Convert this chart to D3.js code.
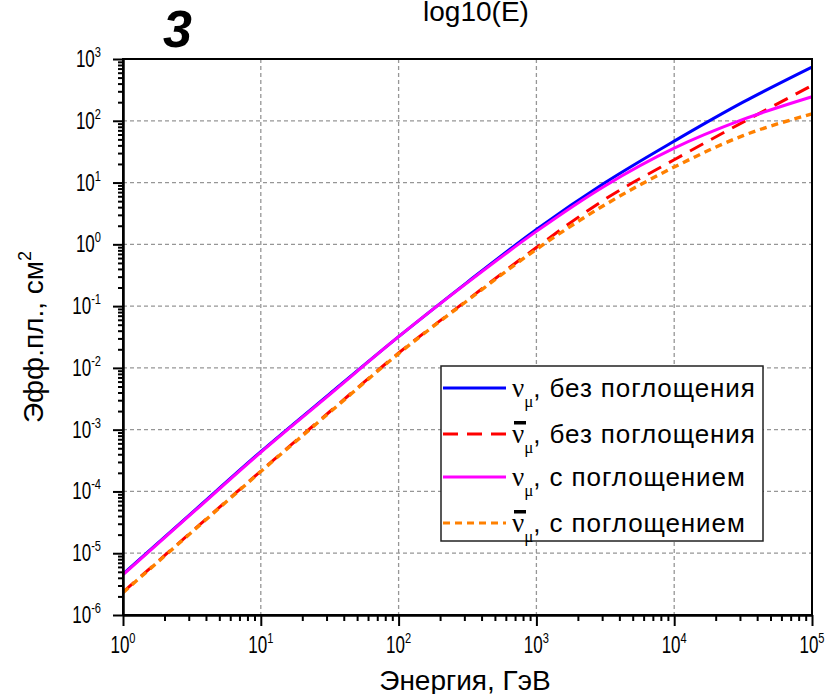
<!DOCTYPE html>
<html>
<head>
<meta charset="utf-8">
<script src="https://cdn.jsdelivr.net/npm/d3@7"></script>
<style>
  body { margin: 0; background: #fff; }
  text { font-family: "Liberation Sans", Arial, sans-serif; }
</style>
</head>
<body>
<div id="container"></div>
<script>
// energies, GeV (half-decade steps)
var energies = [1, 3.16, 10, 31.6, 100, 316, 1000, 3160, 10000, 31600, 100000];
// effective area, cm^2
var numuNoAbs    = [4.6e-6, 4.5e-5, 4.4e-4, 3.8e-3, 3.2e-2, 0.245, 1.74, 10.0, 46.8, 200, 741];
var numubarNoAbs = [2.35e-6, 2.24e-5, 2.14e-4, 1.95e-3, 1.74e-2, 0.126, 0.89, 5.4, 23.4, 95, 372];
var numuAbs      = [4.5e-6, 4.4e-5, 4.3e-4, 3.7e-3, 3.2e-2, 0.24, 1.62, 8.9, 36, 105, 245];
var numubarAbs   = [2.3e-6, 2.2e-5, 2.1e-4, 1.9e-3, 1.7e-2, 0.123, 0.83, 4.4, 17.8, 57.5, 129];

var xTickExps = [0, 1, 2, 3, 4, 5];
var yTickExps = [-6, -5, -4, -3, -2, -1, 0, 1, 2, 3];

var legendLabels = [', без поглощения', ', без поглощения', ', с поглощением', ', с поглощением'];
var legendBar = [false, true, false, true];

var series = [
  {values: numuNoAbs, color: '#0000ff', dash: null, width: 3},
  {values: numubarNoAbs, color: '#ff0000', dash: '15,9', width: 3},
  {values: numuAbs, color: '#ff00ff', dash: null, width: 3},
  {values: numubarAbs, color: '#ff8000', dash: '7,5', width: 3.4}
];

function drawChart() {
  var W = 840, H = 694;
  var mLeft = 123, mRight = 812, mTop = 59, mBottom = 615;

  var svg = d3.select('#container').append('svg')
    .attr('width', W).attr('height', H);
  svg.append('rect').attr('width', W).attr('height', H).attr('fill', '#fff');

  var x = d3.scaleLog().domain([1, 1e5]).range([mLeft, mRight]);
  var y = d3.scaleLog().domain([1e-6, 1e3]).range([mBottom, mTop]);

  // grid
  var grid = svg.append('g').attr('stroke', '#969696').attr('stroke-width', 1.3)
    .attr('stroke-dasharray', '4,3');
  xTickExps.slice(1, -1).forEach(function (e) {
    grid.append('line').attr('x1', x(Math.pow(10, e))).attr('x2', x(Math.pow(10, e)))
      .attr('y1', mTop).attr('y2', mBottom);
  });
  yTickExps.slice(1, -1).forEach(function (e) {
    grid.append('line').attr('y1', y(Math.pow(10, e))).attr('y2', y(Math.pow(10, e)))
      .attr('x1', mLeft).attr('x2', mRight);
  });

  // curves
  var line = d3.line()
    .x(function (d) { return x(d[0]); })
    .y(function (d) { return y(d[1]); })
    .curve(d3.curveMonotoneX);

  series.forEach(function (s) {
    svg.append('path')
      .datum(d3.zip(energies, s.values))
      .attr('fill', 'none')
      .attr('stroke', s.color)
      .attr('stroke-width', s.width)
      .attr('stroke-dasharray', s.dash)
      .attr('d', line);
  });

  // frame
  svg.append('rect').attr('x', mLeft).attr('y', mTop)
    .attr('width', mRight - mLeft).attr('height', mBottom - mTop)
    .attr('fill', 'none').attr('stroke', '#000').attr('stroke-width', 2);

  // axes
  function isMajor(v) { return Math.abs(Math.log10(v) - Math.round(Math.log10(v))) < 1e-6; }

  var xAxis = d3.axisBottom(x).tickValues(x.ticks()).tickFormat('')
    .tickSizeInner(0).tickSizeOuter(0);
  var gx = svg.append('g').attr('transform', 'translate(0,' + mBottom + ')').call(xAxis);
  gx.select('.domain').attr('stroke-width', 2.5);
  gx.selectAll('.tick line').attr('stroke-width', 2)
    .attr('y2', function (d) { return isMajor(d) ? 11 : 6; });

  var yAxis = d3.axisLeft(y).tickValues(y.ticks()).tickFormat('')
    .tickSizeInner(0).tickSizeOuter(0);
  var gy = svg.append('g').attr('transform', 'translate(' + mLeft + ',0)').call(yAxis);
  gy.select('.domain').attr('stroke-width', 2.5);
  gy.selectAll('.tick line').attr('stroke-width', 2)
    .attr('x2', function (d) { return isMajor(d) ? -10 : -5; });

  // tick labels
  xTickExps.forEach(function (e) {
    var g = svg.append('g').attr('transform', 'translate(' + x(Math.pow(10, e)) + ',653)');
    var t = g.append('text').attr('text-anchor', 'middle').attr('font-size', 23)
      .attr('transform', 'scale(0.74,1)');
    t.append('tspan').text('10');
    t.append('tspan').attr('font-size', 15).attr('dy', -10).text(e);
  });
  yTickExps.forEach(function (e) {
    var g = svg.append('g').attr('transform', 'translate(101,' + (y(Math.pow(10, e)) + 8) + ')');
    var t = g.append('text').attr('text-anchor', 'end').attr('font-size', 23)
      .attr('transform', 'scale(0.74,1)');
    t.append('tspan').text('10');
    t.append('tspan').attr('font-size', 15).attr('dy', -10).text(e);
  });

  // axis titles
  svg.append('text').attr('x', 465).attr('y', 690).attr('text-anchor', 'middle')
    .attr('font-size', 28).text('Энергия, ГэВ');

  var yt = svg.append('text').attr('transform', 'translate(43,337) rotate(-90)')
    .attr('text-anchor', 'middle').attr('font-size', 28);
  yt.append('tspan').text('Эфф.пл., см');
  yt.append('tspan').attr('font-size', 18).attr('dy', -12).text('2');

  // headings
  svg.append('text').attr('x', 163).attr('y', 47).attr('font-size', 52)
    .attr('font-weight', 'bold').attr('font-style', 'italic').text('3');
  svg.append('text').attr('x', 476).attr('y', 21).attr('text-anchor', 'middle')
    .attr('font-size', 28).text('log10(E)');

  // legend
  var leg = svg.append('g');
  leg.append('rect').attr('x', 441).attr('y', 366).attr('width', 322).attr('height', 175)
    .attr('fill', '#fff').attr('stroke', '#222').attr('stroke-width', 1.5);
  var legY = [388, 434, 477, 523];
  series.forEach(function (s, i) {
    leg.append('line').attr('x1', 443).attr('x2', 506).attr('y1', legY[i]).attr('y2', legY[i])
      .attr('stroke', s.color).attr('stroke-width', 3.2).attr('stroke-dasharray', s.dash);
    var t = leg.append('text').attr('x', 512).attr('y', legY[i] + 9).attr('font-size', 26);
    t.append('tspan').attr('font-family', 'Liberation Serif, serif').attr('font-size', 27).text('ν');
    t.append('tspan').attr('font-family', 'Liberation Serif, serif').attr('font-size', 17)
      .attr('dy', 10).text('μ');
    t.append('tspan').attr('dy', -10).attr('letter-spacing', 0.9).text(legendLabels[i]);
    if (legendBar[i]) {
      leg.append('rect').attr('x', 514).attr('y', legY[i] - 13).attr('width', 12).attr('height', 3.5)
        .attr('fill', '#000');
    }
  });
}

drawChart();
</script>
</body>
</html>
